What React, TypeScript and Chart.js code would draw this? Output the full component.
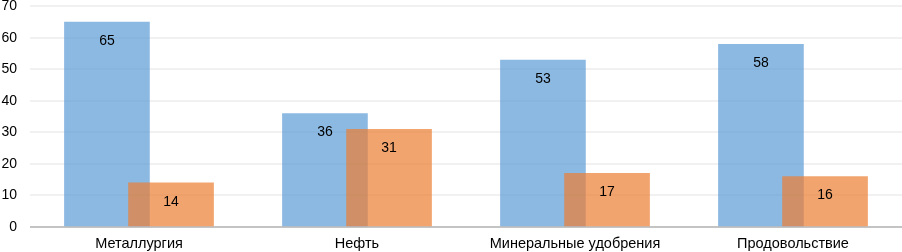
import React, { useEffect, useRef } from "react";
import { Chart, registerables } from "chart.js";

Chart.register(...registerables);

const categories = ["Металлургия", "Нефть", "Минеральные удобрения", "Продовольствие"];
const seriesBlue = [65, 36, 53, 58];
const seriesOrange = [14, 31, 17, 16];
const yTicks = [0, 10, 20, 30, 40, 50, 60, 70];

const SHIFT = 0.147;
const FONT = "'Liberation Sans', Arial, sans-serif";

const labelPlugin = {
  id: "barLabels",
  afterDatasetsDraw(chart: any) {
    const ctx = chart.ctx;
    ctx.save();
    ctx.font = `14px ${FONT}`;
    ctx.fillStyle = "#000";
    ctx.textAlign = "center";
    ctx.textBaseline = "middle";
    chart.data.datasets.forEach((ds: any, di: number) => {
      const meta = chart.getDatasetMeta(di);
      meta.data.forEach((el: any, i: number) => {
        const v = ds.data[i].y;
        ctx.fillText(String(v), el.x, el.y + 19);
      });
    });
    ctx.restore();
  },
};

export default function App() {
  const ref = useRef<HTMLCanvasElement>(null);
  useEffect(() => {
    if (!ref.current) return;
    const chart = new Chart(ref.current, {
      type: "bar",
      data: {
        datasets: [
          {
            label: "A",
            data: seriesBlue.map((v, i) => ({ x: i - SHIFT, y: v })),
            backgroundColor: "rgba(91,155,213,0.7)",
            barThickness: 85,
            order: 1,
          },
          {
            label: "B",
            data: seriesOrange.map((v, i) => ({ x: i + SHIFT, y: v })),
            backgroundColor: "rgba(237,125,49,0.7)",
            barThickness: 85,
            order: 0,
          },
        ],
      },
      options: {
        animation: false,
        responsive: true,
        maintainAspectRatio: false,
        layout: { padding: 0 },
        plugins: { legend: { display: false }, tooltip: { enabled: false } },
        datasets: { bar: { grouped: false } } as any,
        scales: {
          x: {
            type: "linear",
            offset: false,
            min: -0.5,
            max: categories.length - 0.5,
            afterBuildTicks: (s: any) => {
              s.ticks = categories.map((_, i) => ({ value: i }));
            },
            afterFit: (s: any) => {
              s.height = 25;
            },
            ticks: {
              callback: (v: any) => categories[Math.round(v)] ?? "",
              font: { size: 14.5, family: FONT },
              color: "#000",
              padding: 8,
              maxRotation: 0,
              autoSkip: false,
            },
            grid: { display: false, drawTicks: false },
            border: { display: false },
          },
          y: {
            min: 0,
            max: 70,
            afterBuildTicks: (s: any) => {
              s.ticks = yTicks.map((v) => ({ value: v }));
            },
            afterFit: (s: any) => {
              s.width = 32;
            },
            ticks: {
              font: { size: 14, family: FONT },
              color: "#000",
              padding: 13,
            },
            grid: {
              drawTicks: false,
              color: (c: any) => (c.tick && c.tick.value === 0 ? "#c4c4c4" : "#f1f1f1"),
              lineWidth: 2,
            },
            border: { display: false },
          },
        },
      },
      plugins: [labelPlugin],
    });
    return () => chart.destroy();
  }, []);
  return (
    <div style={{ position: "fixed", left: -2, top: -15, width: 904, height: 267 }}>
      <canvas ref={ref} />
    </div>
  );
}
